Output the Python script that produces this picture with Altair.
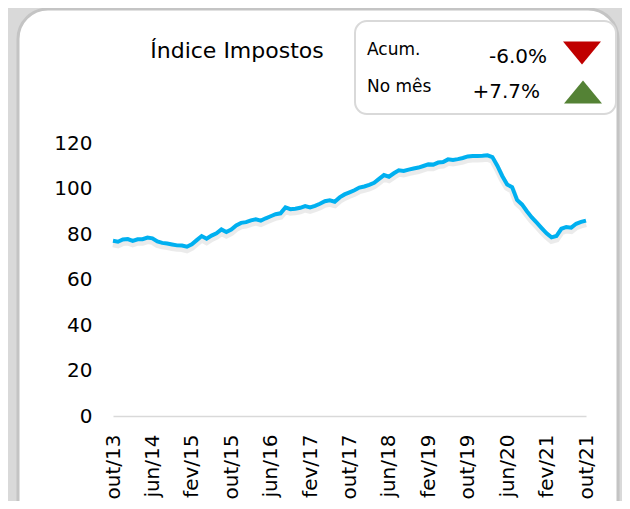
import altair as alt
import pandas as pd

meses_pt = ["jan", "fev", "mar", "abr", "mai", "jun", "jul", "ago", "set", "out", "nov", "dez"]
mes_labels = []
for k in range(97):
    m = (9 + k) % 12
    a = 13 + (9 + k) // 12
    mes_labels.append(f"{meses_pt[m]}/{a:02d}")

indice = [
    77.0, 76.6, 77.6, 77.8, 77.0, 77.7, 77.7, 78.4, 78.1, 76.7,
    76.1, 75.8, 75.4, 75.0, 74.9, 74.4, 75.5, 77.3, 79.1, 77.9,
    79.3, 80.3, 82.0, 80.9, 82.0, 83.8, 84.9, 85.2, 86.0, 86.5,
    85.9, 86.9, 87.8, 88.7, 89.1, 91.7, 90.9, 91.1, 91.5, 92.3,
    91.7, 92.4, 93.3, 94.4, 94.8, 94.2, 96.1, 97.4, 98.3, 99.2,
    100.4, 100.9, 101.6, 102.5, 104.2, 105.9, 105.2, 106.7, 108.0, 107.7,
    108.3, 108.8, 109.2, 109.9, 110.6, 110.5, 111.4, 111.6, 112.8, 112.5,
    112.9, 113.4, 114.1, 114.3, 114.3, 114.4, 114.6, 113.8, 110.0, 105.5,
    101.8, 100.6, 95.0, 93.0, 90.0, 87.3, 85.0, 82.6, 80.3, 78.5,
    79.1, 82.3, 83.1, 82.8, 84.5, 85.3, 85.9,
]
tick_labels = ["out/13", "jun/14", "fev/15", "out/15", "jun/16", "fev/17", "out/17",
               "jun/18", "fev/19", "out/19", "jun/20", "fev/21", "out/21"]
y_ticks = [0, 20, 40, 60, 80, 100, 120]
titulo = "Índice Impostos"
legenda_rotulos = ["Acum.", "No mês"]
legenda_valores = ["-6.0%", "+7.7%"]

FONT = "DejaVu Sans"
df = pd.DataFrame({"mes": mes_labels, "indice": indice})
one = alt.Data(values=[{"a": 1}])

x = alt.X("mes:N", sort=mes_labels, scale=alt.Scale(type="point", padding=0),
          axis=alt.Axis(values=tick_labels, labelAngle=270, labelPadding=18, ticks=False,
                        tickSize=0, domainColor="#d9d9d9", domainWidth=1.5, title=None,
                        labelOverlap=False, labelFontSize=20, zindex=1))
y = alt.Y("indice:Q", scale=alt.Scale(domain=[0, 120]),
          axis=alt.Axis(values=y_ticks, domain=False, ticks=False, tickSize=0,
                        labelPadding=21, grid=False, title=None, labelFontSize=20, zindex=1))

frame = alt.Chart(one).mark_rect(cornerRadius=30, fill="white", stroke="#c4c4c4", strokeWidth=3).encode(
    x=alt.value(-95), x2=alt.value(505), y=alt.value(-134), y2=alt.value(600))
legbox = alt.Chart(one).mark_rect(cornerRadius=12, fill="white", stroke="#d9d9d9", strokeWidth=2).encode(
    x=alt.value(242), x2=alt.value(503), y=alt.value(-122), y2=alt.value(-29))

shadow = alt.Chart(df).mark_line(color="#000000", opacity=0.08, strokeWidth=7, yOffset=3).encode(x=x, y=y)
line = alt.Chart(df).mark_line(color="#00b0f0", strokeWidth=4).encode(x=x, y=y)

def txt(s, xv, yv, size, align="left"):
    return alt.Chart(one).mark_text(font=FONT, fontSize=size, align=align, baseline="alphabetic",
                                    color="black").encode(
        x=alt.value(xv), y=alt.value(yv), text=alt.value(s))

t_title = txt(titulo, 124, -85, 22, "center")
t1 = txt(legenda_rotulos[0], 254, -88, 17)
t2 = txt(legenda_rotulos[1], 254, -51, 17)
v1 = txt(legenda_valores[0], 434, -80, 20, "right")
v2 = txt(legenda_valores[1], 427, -45, 20, "right")

tri_down = alt.Chart(one).mark_point(shape="M-1,-0.6L1,-0.6L0,0.6Z", size=1444, filled=True,
                                     color="#c00000", opacity=1).encode(x=alt.value(469), y=alt.value(-90))
tri_up = alt.Chart(one).mark_point(shape="M-1,0.6L1,0.6L0,-0.6Z", size=1444, filled=True,
                                   color="#548235", opacity=1).encode(x=alt.value(470), y=alt.value(-51))

chart = alt.layer(frame, legbox, shadow, line, t_title, t1, t2, v1, v2, tri_down, tri_up).properties(
    width=473, height=273,
    padding={"left": 105, "top": 135, "right": 36, "bottom": 85},
    autosize=alt.AutoSizeParams(type="none"),
    background="#d9d9d9",
).configure_view(stroke=None).configure_axis(labelFont=FONT, labelColor="black")

chart.save("out.html", embed_options={"renderer": "svg", "actions": False})
